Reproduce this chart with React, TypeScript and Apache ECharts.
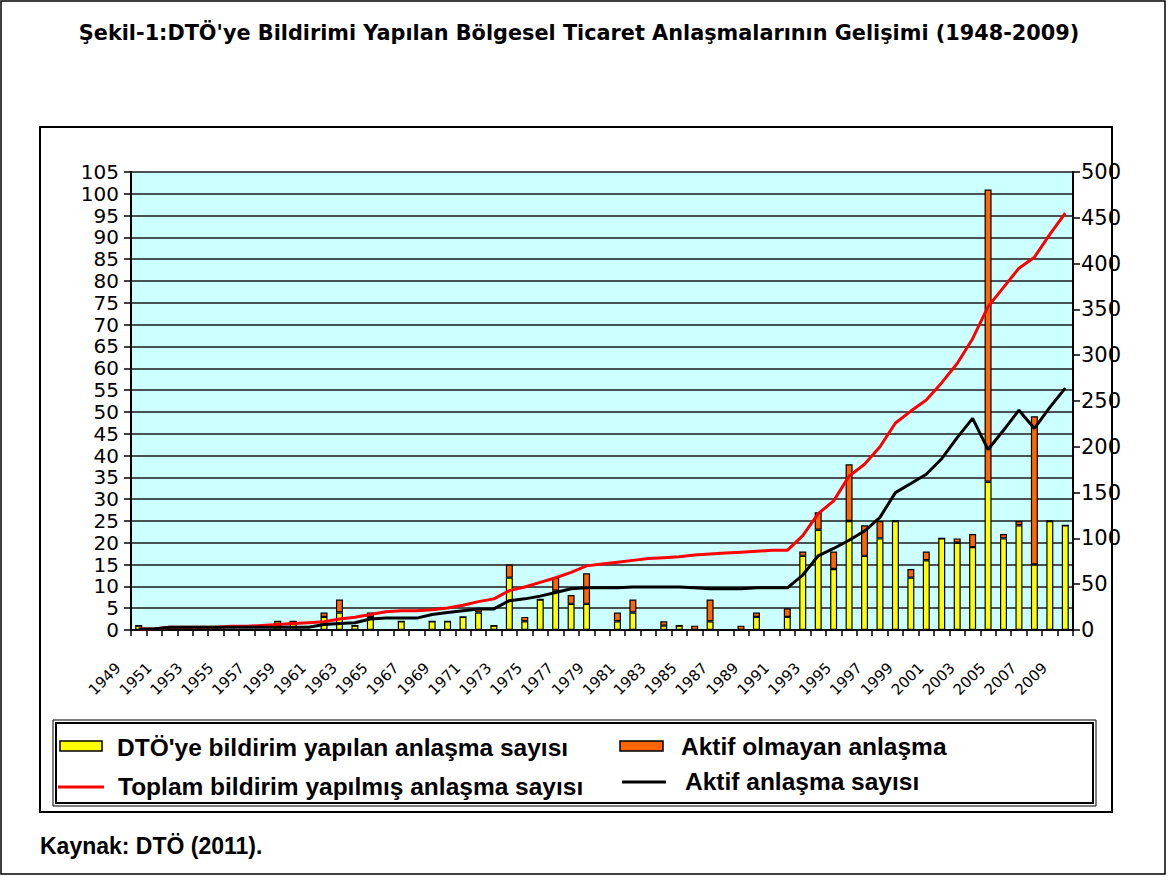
import React, { useEffect, useRef } from "react";
import * as echarts from "echarts";

const years = [
  "1949","1950","1951","1952","1953","1954","1955","1956","1957","1958",
  "1959","1960","1961","1962","1963","1964","1965","1966","1967","1968",
  "1969","1970","1971","1972","1973","1974","1975","1976","1977","1978",
  "1979","1980","1981","1982","1983","1984","1985","1986","1987","1988",
  "1989","1990","1991","1992","1993","1994","1995","1996","1997","1998",
  "1999","2000","2001","2002","2003","2004","2005","2006","2007","2008","2009",
];

// DTÖ'ye bildirim yapılan anlaşma sayısı (left axis)
const notified = [
  1,0,0,0,0,0,0,0,0,2,
  2,0,3,4,1,3,0,2,0,2,
  2,3,4,1,12,2,7,9,6,6,
  0,2,4,0,1,1,0,2,0,0,
  3,0,3,17,23,14,25,17,21,25,
  12,16,21,20,19,34,21,24,15,25,24,
];

// Aktif olmayan anlaşma (left axis, stacked)
const inactive = [
  0,0,0,0,0,0,0,0,0,0,
  0,0,1,3,0,1,0,0,0,0,
  0,0,1,0,3,1,0,3,2,7,
  0,2,3,0,1,0,1,5,0,1,
  1,0,2,1,4,4,13,7,4,0,
  2,2,0,1,3,67,1,1,34,0,0,
];

// Toplam bildirim yapılmış anlaşma sayısı (right axis)
const totalNotified = [
  1,1,3,3,3,3,4,4,5,6,
  7,8,9,12,14,17,20,21,21,22,
  24,27,31,34,43,47,52,57,63,70,
  72,74,76,78,79,80,82,83,84,85,
  86,87,87,103,127,141,168,181,200,226,
  239,251,270,291,318,353,374,395,407,432,455,
];

// Aktif anlaşma sayısı (right axis)
const activeCount = [
  1,1,3,3,3,3,3,3,3,3,
  3,3,6,7,8,12,13,13,13,17,
  19,21,23,23,32,34,37,41,45,46,
  46,46,47,47,47,47,46,45,45,45,
  46,46,46,60,81,89,98,108,123,150,
  160,170,187,210,231,197,218,240,220,243,264,
];

const leftTicks = { min: 0, max: 105, interval: 5 };
const rightTicks = { min: 0, max: 500, interval: 50 };

const titleText =
  "Şekil-1:DTÖ'ye Bildirimi Yapılan Bölgesel Ticaret Anlaşmalarının Gelişimi (1948-2009)";
const legendNames = [
  "DTÖ'ye bildirim yapılan anlaşma sayısı",
  "Aktif olmayan anlaşma",
  "Toplam bildirim yapılmış anlaşma sayısı",
  "Aktif anlaşma sayısı",
];
const sourceText = "Kaynak: DTÖ (2011).";

const LEGEND_FONT = "bold 24.5px 'Liberation Sans', Arial, sans-serif";

export default function App() {
  const ref = useRef<HTMLDivElement>(null);

  useEffect(() => {
    if (!ref.current) return;
    const chart = echarts.init(ref.current, undefined, { renderer: "svg" });
    const option: any = {
      animation: false,
      backgroundColor: "#ffffff",
      grid: {
        left: 131,
        top: 172,
        right: 95,
        bottom: 247,
        show: true,
        backgroundColor: "#CCFFFF",
        borderWidth: 0,
      },
      xAxis: {
        type: "category",
        data: years,
        boundaryGap: true,
        axisLine: { show: true, lineStyle: { color: "#000", width: 2 } },
        axisTick: { show: true, interval: 0, length: 6, lineStyle: { color: "#000", width: 1.5 } },
        axisLabel: {
          interval: 1,
          rotate: 45,
          margin: 15,
          padding: [0, 29, 0, 0],
          color: "#000",
          fontFamily: "'DejaVu Sans', sans-serif",
          fontSize: 15,
        },
        splitLine: { show: false },
      },
      yAxis: [
        {
          type: "value",
          min: leftTicks.min,
          max: leftTicks.max,
          interval: leftTicks.interval,
          position: "left",
          axisLine: { show: true, lineStyle: { color: "#000", width: 2 } },
          axisTick: { show: true, length: 7, lineStyle: { color: "#000", width: 1.5 } },
          axisLabel: {
            margin: 12,
            color: "#000",
            fontFamily: "'DejaVu Sans', sans-serif",
            fontSize: 20,
          },
          splitLine: { show: true, lineStyle: { color: "#1a1a1a", width: 1.6 } },
        },
        {
          type: "value",
          min: rightTicks.min,
          max: rightTicks.max,
          interval: rightTicks.interval,
          position: "right",
          axisLine: { show: true, lineStyle: { color: "#000", width: 2 } },
          axisTick: { show: true, length: 7, lineStyle: { color: "#000", width: 1.5 } },
          axisLabel: {
            margin: 8,
            color: "#000",
            fontFamily: "'DejaVu Sans', sans-serif",
            fontSize: 21,
          },
          splitLine: { show: false },
        },
      ],
      series: [
        {
          name: legendNames[0],
          type: "bar",
          stack: "rta",
          yAxisIndex: 0,
          barWidth: 7,
          data: notified,
          itemStyle: { color: "#FFFF00", borderColor: "#000", borderWidth: 1.2 },
        },
        {
          name: legendNames[1],
          type: "bar",
          stack: "rta",
          yAxisIndex: 0,
          barWidth: 7,
          data: inactive,
          itemStyle: { color: "#FF6600", borderColor: "#000", borderWidth: 1.2 },
        },
        {
          name: legendNames[2],
          type: "line",
          yAxisIndex: 1,
          data: totalNotified,
          symbol: "none",
          lineStyle: { color: "#FF0000", width: 3 },
          itemStyle: { color: "#FF0000" },
        },
        {
          name: legendNames[3],
          type: "line",
          yAxisIndex: 1,
          data: activeCount,
          symbol: "none",
          lineStyle: { color: "#000000", width: 3 },
          itemStyle: { color: "#000000" },
        },
      ],
      graphic: [
        {
          type: "rect",
          silent: true,
          shape: { x: 1, y: 1, width: 1164, height: 873 },
          style: { fill: "none", stroke: "#000", lineWidth: 1.5 },
        },
        {
          type: "rect",
          silent: true,
          shape: { x: 40, y: 127, width: 1072, height: 685 },
          style: { fill: "none", stroke: "#000", lineWidth: 2 },
        },
        {
          type: "text",
          x: 579,
          y: 33,
          style: {
            text: titleText,
            font: "bold 20.8px 'DejaVu Sans', sans-serif",
            fill: "#000",
            align: "center",
            verticalAlign: "middle",
          },
        },
        {
          type: "rect",
          silent: true,
          shape: { x: 56, y: 723, width: 1037, height: 80 },
          style: { fill: "#fff", stroke: "#000", lineWidth: 2 },
        },
        {
          type: "rect",
          silent: true,
          shape: { x: 53, y: 720, width: 1043, height: 86 },
          style: { fill: "none", stroke: "#000", lineWidth: 1 },
        },
        {
          type: "rect",
          shape: { x: 60, y: 741, width: 42, height: 10 },
          style: { fill: "#FFFF00", stroke: "#000", lineWidth: 1.5 },
        },
        {
          type: "text",
          x: 117,
          y: 747,
          style: { text: legendNames[0], font: LEGEND_FONT, fill: "#000", verticalAlign: "middle" },
        },
        {
          type: "rect",
          shape: { x: 620, y: 741, width: 43, height: 10 },
          style: { fill: "#FF6600", stroke: "#000", lineWidth: 1.5 },
        },
        {
          type: "text",
          x: 681,
          y: 746,
          style: { text: legendNames[1], font: LEGEND_FONT, fill: "#000", verticalAlign: "middle" },
        },
        {
          type: "line",
          shape: { x1: 58, y1: 787, x2: 104, y2: 787 },
          style: { stroke: "#FF0000", lineWidth: 3 },
        },
        {
          type: "text",
          x: 118,
          y: 786,
          style: { text: legendNames[2], font: LEGEND_FONT, fill: "#000", verticalAlign: "middle" },
        },
        {
          type: "line",
          shape: { x1: 622, y1: 782, x2: 666, y2: 782 },
          style: { stroke: "#000", lineWidth: 3 },
        },
        {
          type: "text",
          x: 685,
          y: 781,
          style: { text: legendNames[3], font: LEGEND_FONT, fill: "#000", verticalAlign: "middle" },
        },
        {
          type: "text",
          x: 40,
          y: 846,
          style: {
            text: sourceText,
            font: "bold 23px 'Liberation Sans', Arial, sans-serif",
            fill: "#000",
            verticalAlign: "middle",
          },
        },
      ],
    };
    chart.setOption(option);
    return () => chart.dispose();
  }, []);

  return (
    <div
      ref={ref}
      style={{ position: "absolute", left: 0, top: 0, width: 1168, height: 877 }}
    />
  );
}
